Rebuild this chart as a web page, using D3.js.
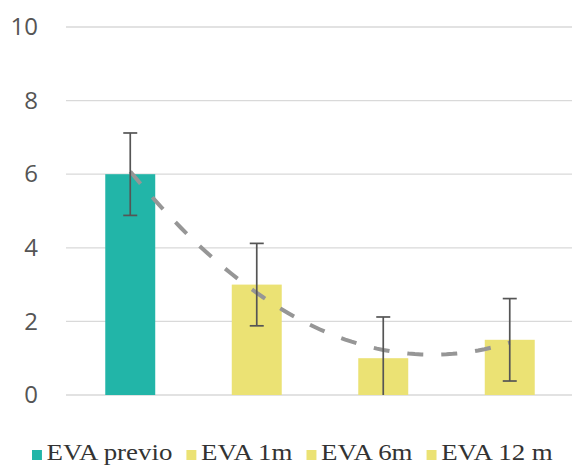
<!DOCTYPE html>
<html>
<head>
<meta charset="utf-8">
<script src="https://cdn.jsdelivr.net/npm/d3@7/dist/d3.min.js"></script>
<style>
  html, body { margin: 0; padding: 0; background: #ffffff; }
  svg { display: block; }
</style>
</head>
<body>
<svg id="chart" width="572" height="465"></svg>
<script>
// ---- data ----
const categories = ["EVA previo", "EVA 1m", "EVA 6m", "EVA 12 m"];
const values = [6.0, 3.0, 1.0, 1.5];
const errors = [1.12, 1.12, 1.12, 1.12];
const barColors = ["#22b5a8", "#ebe274", "#ebe274", "#ebe274"];
const yTicks = [0, 2, 4, 6, 8, 10];

// ---- layout ----
const W = 572, H = 465;
const svg = d3.select("#chart");

const x = d3.scaleBand()
  .domain(categories)
  .range([67, 573])
  .paddingInner(0.605)
  .paddingOuter(0.3025);

const y = d3.scaleLinear().domain([0, 10]).range([395, 27]);

// gridlines
svg.append("g")
  .selectAll("line")
  .data(yTicks)
  .join("line")
  .attr("x1", 66).attr("x2", 572)
  .attr("y1", d => y(d)).attr("y2", d => y(d))
  .attr("stroke", "#d9d9d9")
  .attr("stroke-width", 1.3);

// y axis labels
const yAxis = d3.axisLeft(y).tickValues(yTicks).tickSize(0).tickPadding(0);
const gy = svg.append("g").attr("transform", "translate(38,0)").call(yAxis);
gy.select(".domain").remove();
gy.selectAll("text")
  .attr("font-family", "'Open Sans', sans-serif")
  .attr("font-size", 24)
  .attr("fill", "#555555");

// bars
svg.append("g")
  .selectAll("rect")
  .data(categories)
  .join("rect")
  .attr("x", d => x(d))
  .attr("width", x.bandwidth())
  .attr("y", (d, i) => y(values[i]))
  .attr("height", (d, i) => y(0) - y(values[i]))
  .attr("fill", (d, i) => barColors[i]);

// trendline (quadratic least-squares fit of the series)
(function () {
  const n = values.length;
  const xs = values.map((v, i) => i + 1);
  let S = [[0,0,0],[0,0,0],[0,0,0]], T = [0,0,0];
  for (let i = 0; i < n; i++) {
    const p = [1, xs[i], xs[i]*xs[i]];
    for (let r = 0; r < 3; r++) {
      T[r] += p[r] * values[i];
      for (let c = 0; c < 3; c++) S[r][c] += p[r] * p[c];
    }
  }
  const M = S.map((row, r) => row.concat([T[r]]));
  for (let c = 0; c < 3; c++) {
    let piv = c;
    for (let r = c + 1; r < 3; r++) if (Math.abs(M[r][c]) > Math.abs(M[piv][c])) piv = r;
    [M[c], M[piv]] = [M[piv], M[c]];
    for (let r = 0; r < 3; r++) {
      if (r === c) continue;
      const f = M[r][c] / M[c][c];
      for (let k = c; k < 4; k++) M[r][k] -= f * M[c][k];
    }
  }
  const coef = [M[0][3]/M[0][0], M[1][3]/M[1][1], M[2][3]/M[2][2]];
  const xc = d3.scaleLinear().domain([1, n])
    .range([x(categories[0]) + x.bandwidth()/2, x(categories[n-1]) + x.bandwidth()/2]);
  const pts = d3.range(1, n + 0.0001, 0.05).map(t => [xc(t), y(coef[0] + coef[1]*t + coef[2]*t*t)]);
  svg.append("path")
    .attr("d", d3.line()(pts))
    .attr("fill", "none")
    .attr("stroke", "#969696")
    .attr("stroke-width", 4)
    .attr("stroke-dasharray", "16,18");
})();

// error bars
const eb = svg.append("g").attr("stroke", "#555555").attr("stroke-width", 1.7);
categories.forEach((c, i) => {
  const cx = x(c) + x.bandwidth() / 2;
  const hi = values[i] + errors[i];
  const loRaw = values[i] - errors[i];
  const lo = Math.max(0, loRaw);
  eb.append("line").attr("x1", cx).attr("x2", cx).attr("y1", y(hi)).attr("y2", y(lo));
  eb.append("line").attr("x1", cx - 7).attr("x2", cx + 7).attr("y1", y(hi)).attr("y2", y(hi));
  if (loRaw >= 0) {
    eb.append("line").attr("x1", cx - 7).attr("x2", cx + 7).attr("y1", y(lo)).attr("y2", y(lo));
  }
});

// legend
const lg = svg.append("g").attr("transform", "translate(32,460) scale(1.17,1)");
let cursor = 0;
categories.forEach((c, i) => {
  lg.append("rect")
    .attr("x", cursor).attr("y", -10)
    .attr("width", 8.5).attr("height", 10)
    .attr("fill", barColors[i]);
  const t = lg.append("text")
    .attr("x", cursor + 12.5).attr("y", 0)
    .attr("font-family", "'Liberation Serif', 'Times New Roman', serif")
    .attr("font-size", 23)
    .attr("fill", "#333333")
    .text(c);
  cursor += 12.5 + t.node().getComputedTextLength() + 12;
});
</script>
</body>
</html>
